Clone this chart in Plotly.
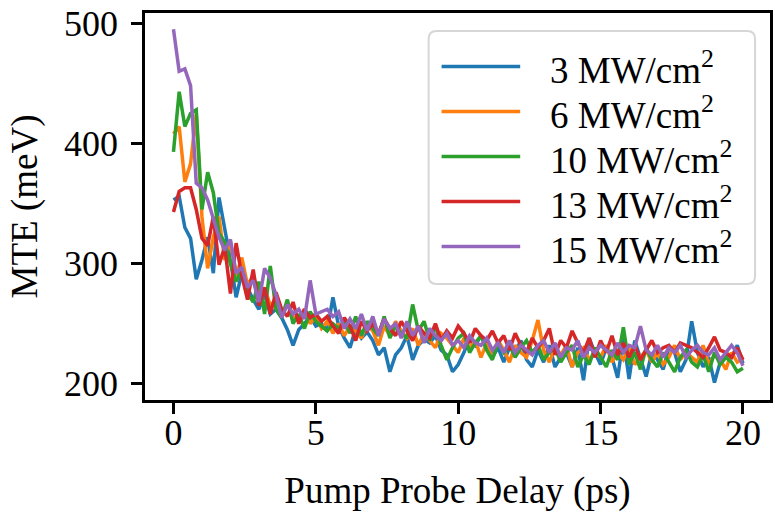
import plotly.graph_objects as go

delay = [0.0, 0.2, 0.4, 0.6, 0.8, 1.0, 1.2, 1.4, 1.6, 1.8,
         2.0, 2.2, 2.4, 2.6, 2.8, 3.0, 3.2, 3.4, 3.6, 3.8,
         4.0, 4.2, 4.4, 4.6, 4.8, 5.0, 5.2, 5.4, 5.6, 5.8,
         6.0, 6.2, 6.4, 6.6, 6.8, 7.0, 7.2, 7.4, 7.6, 7.8,
         8.0, 8.2, 8.4, 8.6, 8.8, 9.0, 9.2, 9.4, 9.6, 9.8,
         10.0, 10.2, 10.4, 10.6, 10.8, 11.0, 11.2, 11.4, 11.6, 11.8,
         12.0, 12.2, 12.4, 12.6, 12.8, 13.0, 13.2, 13.4, 13.6, 13.8,
         14.0, 14.2, 14.4, 14.6, 14.8, 15.0, 15.2, 15.4, 15.6, 15.8,
         16.0, 16.2, 16.4, 16.6, 16.8, 17.0, 17.2, 17.4, 17.6, 17.8,
         18.0, 18.2, 18.4, 18.6, 18.8, 19.0, 19.2, 19.4, 19.6, 19.8,
         20.0]

mte_3 = [353, 356, 330, 321, 287, 303, 322, 292, 355, 330,
         303, 272, 292, 280, 270, 262, 275, 258, 262, 255,
         245, 232, 245, 250, 256, 248, 250, 244, 272, 248,
         238, 230, 246, 238, 243, 236, 224, 230, 210, 224,
         230, 240, 220, 232, 237, 234, 240, 228, 224, 210,
         216, 226, 238, 232, 240, 230, 222, 230, 218, 230,
         226, 236, 220, 214, 228, 218, 232, 214, 222, 226,
         214, 230, 203, 238, 226, 216, 230, 222, 205, 238,
         204, 236, 222, 206, 226, 220, 212, 230, 226, 210,
         220, 252, 226, 214, 222, 201, 218, 225, 222, 232,
         217]

mte_6 = [408, 414, 368, 383, 425, 339, 296, 322, 339, 303,
         318, 290, 305, 282, 290, 272, 280, 265, 270, 258,
         266, 256, 252, 262, 250, 256, 246, 252, 242, 250,
         240, 248, 244, 238, 250, 244, 232, 248, 240, 252,
         244, 238, 246, 232, 242, 236, 230, 242, 238, 232,
         226, 238, 230, 236, 222, 234, 224, 236, 228, 218,
         232, 226, 222, 236, 253, 228, 218, 230, 224, 232,
         214, 226, 230, 220, 226, 222, 232, 218, 226, 220,
         230, 216, 222, 228, 218, 226, 216, 222, 232, 220,
         226, 222, 218, 232, 216, 224, 220, 212, 226, 218,
         221]

mte_10 = [393, 443, 414, 425, 428, 345, 376, 359, 325, 318,
          300, 285, 295, 275, 268, 285, 258, 298, 262, 255,
          270, 250, 258, 246, 260, 252, 248, 244, 250, 246,
          252, 242, 256, 240, 252, 246, 240, 256, 238, 248,
          242, 238, 266, 244, 252, 236, 248, 232, 220, 230,
          238, 242, 226, 234, 240, 228, 220, 234, 226, 232,
          222, 230, 236, 226, 232, 220, 226, 230, 218, 226,
          232, 214, 224, 216, 230, 222, 214, 228, 220, 247,
          216, 226, 212, 230, 220, 214, 226, 218, 210, 222,
          228, 218, 214, 224, 210, 226, 216, 222, 218, 210,
          213]

mte_13 = [343, 360, 363, 363, 345, 321, 315, 339, 299, 314,
          275, 317, 290, 270, 295, 265, 280, 258, 276, 262,
          256, 268, 250, 262, 255, 258, 252, 256, 248, 242,
          255, 248, 236, 252, 244, 250, 242, 254, 246, 240,
          252, 244, 236, 248, 242, 238, 250, 236, 244, 238,
          248, 242, 234, 246, 240, 236, 244, 234, 240, 228,
          242, 232, 226, 238, 230, 236, 246, 224, 236, 230,
          244, 234, 226, 238, 222, 236, 226, 240, 224, 234,
          222, 232, 220, 228, 236, 226, 230, 232, 226, 234,
          232, 230, 226, 222, 230, 239, 228, 226, 222, 230,
          220]

mte_15 = [495, 460, 462, 448, 367, 363, 353, 338, 322, 311,
          320, 292, 297, 280, 286, 268, 296, 288, 274, 255,
          266, 258, 262, 254, 286, 258, 260, 262, 256, 260,
          246, 254, 246, 258, 244, 256, 240, 254, 246, 250,
          238, 252, 240, 248, 234, 246, 240, 236, 242, 232,
          236, 230, 240, 234, 232, 238, 228, 234, 226, 236,
          226, 232, 228, 224, 232, 236, 226, 234, 222, 230,
          228, 236, 222, 230, 226, 232, 228, 224, 234, 226,
          232, 230, 248, 228, 224, 232, 222, 230, 226, 232,
          222, 228, 232, 226, 224, 230, 220, 226, 232, 226,
          215]

series_names = ["3 MW/cm<sup>2</sup>", "6 MW/cm<sup>2</sup>", "10 MW/cm<sup>2</sup>",
                "13 MW/cm<sup>2</sup>", "15 MW/cm<sup>2</sup>"]
series_values = [mte_3, mte_6, mte_10, mte_13, mte_15]
colors = ["#1f77b4", "#ff7f0e", "#2ca02c", "#d62728", "#9467bd"]

x_ticks = [0, 5, 10, 15, 20]
y_ticks = [200, 300, 400, 500]

FONT = "'Liberation Serif', 'Times New Roman', serif"
W, H = 775, 512
L, R, T, B = 145, 773, 13, 400  # plot area in pixels

fig = go.Figure()
for name, vals, col in zip(series_names, series_values, colors):
    fig.add_trace(go.Scatter(x=delay, y=vals, mode="lines", name=name,
                             line=dict(color=col, width=3.5), showlegend=False))

def px_x(p):
    return (p - L) / (R - L)

def px_y(p):
    return (B - p) / (B - T)

# custom legend (matplotlib style)
bx0, bx1, by0, by1 = 430, 758, 31, 284
rr = 8
path = (f"M {px_x(bx0+rr)} {px_y(by0)} L {px_x(bx1-rr)} {px_y(by0)} "
        f"Q {px_x(bx1)} {px_y(by0)} {px_x(bx1)} {px_y(by0+rr)} "
        f"L {px_x(bx1)} {px_y(by1-rr)} Q {px_x(bx1)} {px_y(by1)} {px_x(bx1-rr)} {px_y(by1)} "
        f"L {px_x(bx0+rr)} {px_y(by1)} Q {px_x(bx0)} {px_y(by1)} {px_x(bx0)} {px_y(by1-rr)} "
        f"L {px_x(bx0)} {px_y(by0+rr)} Q {px_x(bx0)} {px_y(by0)} {px_x(bx0+rr)} {px_y(by0)} Z")
shapes = [dict(type="path", path=path, xref="paper", yref="paper",
               line=dict(color="#d6d6d6", width=2), fillcolor="rgba(255,255,255,0.8)",
               layer="above")]
annotations = []
for i, (name, col) in enumerate(zip(series_names, colors)):
    yc = 66.5 + 45 * i
    shapes.append(dict(type="line", xref="paper", yref="paper",
                       x0=px_x(443), x1=px_x(522), y0=px_y(yc), y1=px_y(yc),
                       line=dict(color=col, width=3.5), layer="above"))
    annotations.append(dict(x=px_x(550), y=px_y(yc + 1), xref="paper", yref="paper",
                            text=name, showarrow=False, xanchor="left", yanchor="middle",
                            font=dict(family=FONT, size=37, color="black")))

axis_common = dict(showline=True, linecolor="black", linewidth=2.5, mirror=True,
                   ticks="outside", ticklen=11, tickwidth=2.5, tickcolor="black",
                   showgrid=False, zeroline=False,
                   tickfont=dict(family=FONT, size=36, color="black"))

fig.update_layout(
    width=W, height=H,
    margin=dict(l=L, r=W - R, t=T, b=H - B),
    paper_bgcolor="white", plot_bgcolor="white",
    xaxis=dict(range=[-1.0, 20.95], tickvals=x_ticks, ticklabelstandoff=-12,
               title=dict(text="Pump Probe Delay (ps)", standoff=28,
                          font=dict(family=FONT, size=37, color="black")),
               **axis_common),
    yaxis=dict(range=[186.5, 508.5], tickvals=y_ticks, ticklabelstandoff=6,
               title=dict(text="MTE (meV)", standoff=16,
                          font=dict(family=FONT, size=37, color="black")),
               **axis_common),
    shapes=shapes, annotations=annotations, showlegend=False,
)

fig.write_html("out.html")
